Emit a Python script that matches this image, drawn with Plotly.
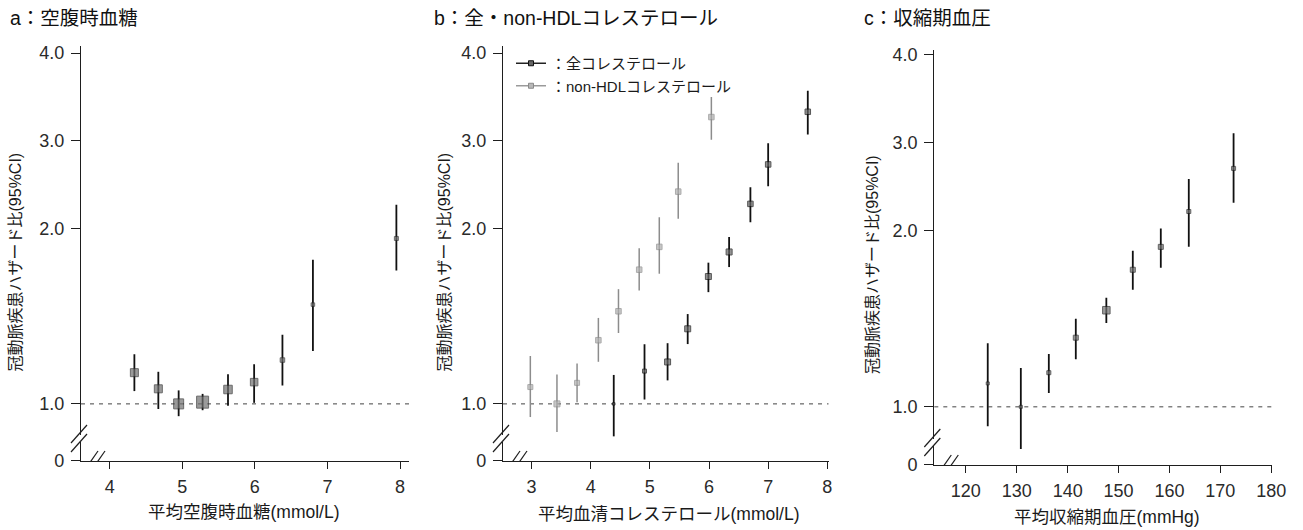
import plotly.graph_objects as go

# ---------------- data (hazard ratios) ----------------
a_x = [4.34, 4.67, 4.95, 5.28, 5.63, 5.99, 6.38, 6.80, 7.95]
a_hr = [1.178, 1.086, 1.00, 1.01, 1.082, 1.124, 1.25, 1.566, 1.943]
a_lo = [1.073, 0.971, 0.93, 0.964, 0.99, 1.006, 1.105, 1.302, 1.76]
a_hi = [1.283, 1.183, 1.077, 1.057, 1.169, 1.226, 1.394, 1.822, 2.27]
a_size = [8, 8, 10, 12, 8.5, 7.5, 4.5, 3.5, 4]

b_tc_x = [4.39, 4.91, 5.30, 5.64, 5.99, 6.34, 6.70, 7.00, 7.67]
b_tc_hr = [1.00, 1.187, 1.239, 1.428, 1.726, 1.866, 2.28, 2.73, 3.33]
b_tc_lo = [0.815, 1.025, 1.134, 1.341, 1.637, 1.78, 2.07, 2.48, 3.07]
b_tc_hi = [1.165, 1.34, 1.346, 1.512, 1.805, 1.952, 2.47, 2.97, 3.57]
b_tc_size = [2.5, 4, 6, 6, 6, 6, 5.5, 5.5, 5.5]

b_nh_x = [2.98, 3.43, 3.77, 4.13, 4.47, 4.82, 5.16, 5.48, 6.04]
b_nh_hr = [1.096, 1.00, 1.12, 1.363, 1.528, 1.765, 1.895, 2.42, 3.27]
b_nh_lo = [0.925, 0.84, 1.01, 1.24, 1.404, 1.647, 1.742, 2.11, 3.01]
b_nh_hi = [1.273, 1.168, 1.23, 1.49, 1.654, 1.887, 2.127, 2.75, 3.50]
b_nh_size = [5, 6, 5, 5.5, 5.5, 5.5, 5.5, 5.5, 5.5]

c_x = [124.3, 130.8, 136.3, 141.6, 147.6, 152.8, 158.3, 163.8, 172.6]
c_hr = [1.133, 1.0, 1.194, 1.393, 1.549, 1.779, 1.909, 2.22, 2.71]
c_lo = [0.89, 0.76, 1.078, 1.27, 1.476, 1.666, 1.79, 1.91, 2.32]
c_hi = [1.362, 1.22, 1.30, 1.50, 1.62, 1.887, 2.027, 2.59, 3.11]
c_size = [3, 3, 4, 5, 7.5, 5, 5, 4, 4]

y_tick_hr = [1.0, 2.0, 3.0, 4.0]
y_tick_text = ["1.0", "2.0", "3.0", "4.0"]
a_xticks = [4, 5, 6, 7, 8]
b_xticks = [3, 4, 5, 6, 7, 8]
c_xticks = [120, 130, 140, 150, 160, 170, 180]

titles = ["a：空腹時血糖", "b：全・non-HDLコレステロール", "c：収縮期血圧"]
x_titles = ["平均空腹時血糖(mmol/L)", "平均血清コレステロール(mmol/L)", "平均収縮期血圧(mmHg)"]
y_title = "冠動脈疾患ハザード比(95%CI)"
legend_names = ["：全コレステロール", "：non-HDLコレステロール"]


# The original figure's y scale: 1→2 spans twice the length of 2→3 and 3→4.
def T(v):
    return 2 * (v - 1) if v <= 2 else 2 + (v - 2)


W, H = 1303, 530
FONT = "Liberation Sans, Arial, Noto Sans CJK JP, sans-serif"
INK = "#1e1e1e"

fig = go.Figure()


def add_series(xa, ya, xs, hr, lo, hi, size, fill, edge, barcol, thick):
    yt = [T(v) for v in hr]
    up = [T(h) - T(v) for v, h in zip(hr, hi)]
    dn = [T(v) - T(l) for v, l in zip(hr, lo)]
    fig.add_trace(go.Scatter(
        x=xs, y=yt, mode="markers", xaxis=xa, yaxis=ya, showlegend=False,
        marker=dict(symbol="square", size=size, color=fill,
                    line=dict(color=edge, width=1)),
        error_y=dict(type="data", symmetric=False, array=up, arrayminus=dn,
                     width=0, thickness=thick, color=barcol),
        hoverinfo="skip"))


add_series("x", "y", a_x, a_hr, a_lo, a_hi, a_size, "#707070", "#2e2e2e", "#111111", 1.8)
add_series("x2", "y2", b_nh_x, b_nh_hr, b_nh_lo, b_nh_hi, b_nh_size, "#b0b0b0", "#8a8a8a", "#8c8c8c", 1.5)
add_series("x2", "y2", b_tc_x, b_tc_hr, b_tc_lo, b_tc_hi, b_tc_size, "#666666", "#111111", "#111111", 1.8)
add_series("x3", "y3", c_x, c_hr, c_lo, c_hi, c_size, "#707070", "#222222", "#111111", 1.8)

# legend entries
fig.add_trace(go.Scatter(x=[None], y=[None], mode="lines+markers", xaxis="x2", yaxis="y2",
                         name=legend_names[0], legendgroup="g1",
                         line=dict(color="#222222", width=1.5),
                         marker=dict(symbol="square", size=5, color="#666666",
                                     line=dict(color="#111111", width=1))))
fig.add_trace(go.Scatter(x=[None], y=[None], mode="lines+markers", xaxis="x2", yaxis="y2",
                         name=legend_names[1], legendgroup="g2",
                         line=dict(color="#9a9a9a", width=1.5),
                         marker=dict(symbol="square", size=5, color="#b8b8b8",
                                     line=dict(color="#8a8a8a", width=1))))

# panel geometry (pixels)
panels = [
    dict(xl=81, xr=409.3, xrange=[3.6045, 8.128], yb=461, yt=46, yrange=[-0.651, 4.08], xticks=a_xticks),
    dict(xl=503, xr=828.5, xrange=[2.518, 8.02], yb=461, yt=46, yrange=[-0.651, 4.08], xticks=b_xticks),
    dict(xl=934.3, xr=1271.5, xrange=[113.8, 180.05], yb=465, yt=49.6, yrange=[-0.661, 4.06], xticks=c_xticks),
]

axis_common = dict(showline=True, linecolor=INK, linewidth=1.3, ticks="outside",
                   tickcolor=INK, tickwidth=1.2, showgrid=False, zeroline=False,
                   tickfont=dict(family=FONT, size=18, color="#2a2a2a"), automargin=False,
                   fixedrange=True)

shapes = []
for i, p in enumerate(panels):
    sfx = "" if i == 0 else str(i + 1)
    y0t = p["yrange"][0] + 0.001
    fig.update_layout(**{
        "xaxis" + sfx: dict(domain=[p["xl"] / W, p["xr"] / W], range=p["xrange"],
                            anchor="y" + sfx, tickvals=p["xticks"], ticklen=7,
                            ticklabelstandoff=2, **axis_common),
        "yaxis" + sfx: dict(domain=[1 - p["yb"] / H, 1 - p["yt"] / H], range=p["yrange"],
                            anchor="x" + sfx, tickvals=[y0t] + [T(v) for v in y_tick_hr],
                            ticktext=["0"] + y_tick_text, ticklen=9,
                            ticklabelstandoff=3, **axis_common),
    })
    xd = "x" + sfx + " domain"
    ya = "y" + sfx
    # reference line at HR = 1.0
    shapes.append(dict(type="line", xref=xd, x0=0, x1=1, yref=ya, y0=T(1.0), y1=T(1.0),
                       line=dict(color="#444444", width=1, dash="4px,5px"), layer="below"))
    # axis breaks: white gaps then double slashes
    yb = p["yrange"][0]
    shapes.append(dict(type="line", xref=xd, xanchor=0, xsizemode="pixel", x0=0, x1=0,
                       yref=ya, yanchor=yb, ysizemode="pixel", y0=19, y1=26,
                       line=dict(color="white", width=4), layer="above"))
    shapes.append(dict(type="line", xref=xd, xanchor=0, xsizemode="pixel", x0=11, x1=16,
                       yref=ya, yanchor=yb, ysizemode="pixel", y0=0, y1=0,
                       line=dict(color="white", width=4), layer="above"))
    for cy in (18, 27):
        shapes.append(dict(type="line", xref=xd, xanchor=0, xsizemode="pixel", x0=-10, x1=6,
                           yref=ya, yanchor=yb, ysizemode="pixel", y0=cy - 9, y1=cy + 9,
                           line=dict(color=INK, width=1.2), layer="above"))
    for cx in (10, 17):
        shapes.append(dict(type="line", xref=xd, xanchor=0, xsizemode="pixel", x0=cx - 7, x1=cx + 7,
                           yref=ya, yanchor=yb, ysizemode="pixel", y0=-10, y1=10,
                           line=dict(color=INK, width=1.2), layer="above"))

annotations = []
title_pos = [(8, 18), (432, 18), (862, 18)]
for t, (px, py) in zip(titles, title_pos):
    annotations.append(dict(text=t, xref="paper", yref="paper", x=px / W, y=1 - py / H,
                            xanchor="left", yanchor="middle", showarrow=False,
                            font=dict(family=FONT, size=19.5, color="#111111")))
xt_pos = [(243.5, 512), (668.7, 514), (1107, 517)]
for t, (px, py) in zip(x_titles, xt_pos):
    annotations.append(dict(text=t, xref="paper", yref="paper", x=px / W, y=1 - py / H,
                            xanchor="center", yanchor="middle", showarrow=False,
                            font=dict(family=FONT, size=17.5, color="#1a1a1a")))
yt_pos = [(14.5, 262), (443.5, 262), (872, 265)]
for px, py in yt_pos:
    annotations.append(dict(text=y_title, xref="paper", yref="paper", x=px / W, y=1 - py / H,
                            xanchor="center", yanchor="middle", showarrow=False, textangle=-90,
                            font=dict(family=FONT, size=16, color="#1a1a1a")))

fig.update_layout(
    width=W, height=H, margin=dict(l=0, r=0, t=0, b=0),
    paper_bgcolor="white", plot_bgcolor="white",
    shapes=shapes, annotations=annotations,
    showlegend=True,
    legend=dict(x=511 / W, y=1 - 47 / H, xanchor="left", yanchor="top",
                bgcolor="rgba(0,0,0,0)", tracegroupgap=0,
                font=dict(family=FONT, size=15, color="#1a1a1a"), itemwidth=30),
)

fig.write_html("out.html", config={"displayModeBar": False},
               post_script="document.body.style.margin='0';")
